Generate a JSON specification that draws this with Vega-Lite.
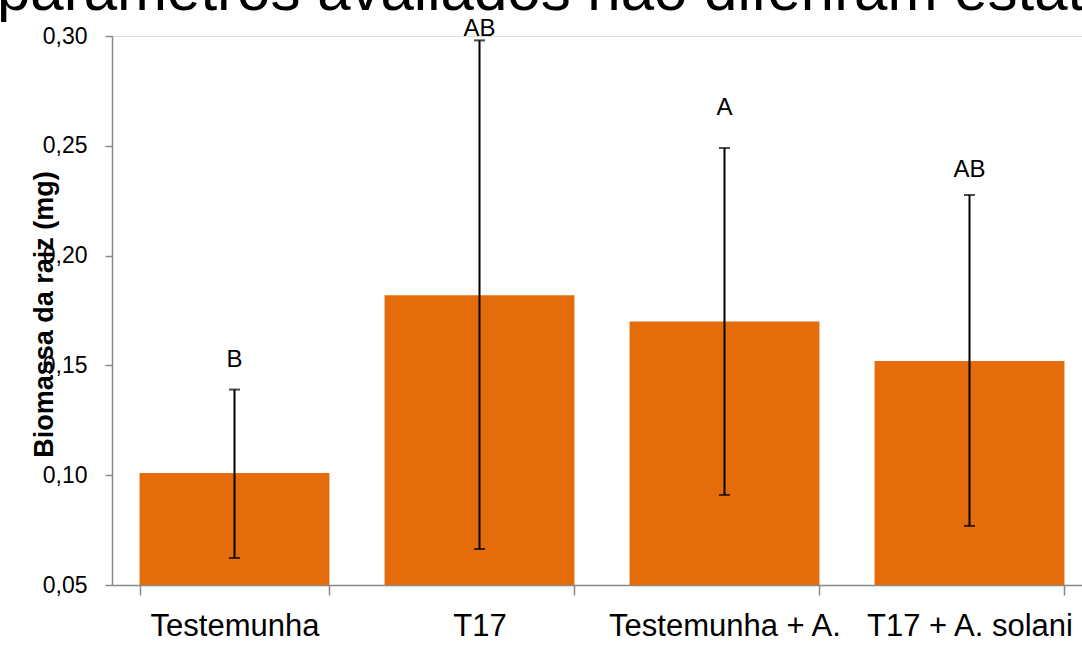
{
  "$schema": "https://vega.github.io/schema/vega-lite/v6.json",
  "width": 970,
  "height": 549,
  "autosize": {"type": "none"},
  "padding": {"left": 112, "top": 36, "right": 0, "bottom": 63},
  "background": "white",
  "title": {
    "text": "parâmetros avaliados não diferiram estatisticamente",
    "anchor": "start",
    "frame": "group",
    "orient": "top",
    "dx": -115,
    "offset": -53,
    "baseline": "alphabetic",
    "font": "Liberation Sans",
    "fontSize": 60,
    "fontWeight": "normal",
    "color": "black"
  },
  "data": {
    "values": [
      {"trat": "Testemunha", "media": 0.101, "lo": 0.0623, "hi": 0.139, "sig": "B", "sig_y": 0.1525},
      {"trat": "T17", "media": 0.182, "lo": 0.0664, "hi": 0.298, "sig": "AB", "sig_y": 0.3032},
      {"trat": "Testemunha + A.", "media": 0.170, "lo": 0.091, "hi": 0.249, "sig": "A", "sig_y": 0.2672},
      {"trat": "T17 + A. solani", "media": 0.152, "lo": 0.0769, "hi": 0.2276, "sig": "AB", "sig_y": 0.239}
    ]
  },
  "encoding": {
    "x": {
      "field": "trat",
      "type": "nominal",
      "sort": null,
      "scale": {"range": [0, 980], "paddingInner": 0.225, "paddingOuter": 0.1125},
      "axis": {
        "title": null,
        "labelAngle": 0,
        "tickBand": "extent",
        "tickSize": 10,
        "labelPadding": 16,
        "labelFont": "Liberation Sans",
        "labelFontSize": 31,
        "labelColor": "black",
        "labelBaseline": "top",
        "domainColor": "#898989",
        "domainWidth": 1.5,
        "tickColor": "#898989",
        "tickWidth": 1.5,
        "labelLimit": 0,
        "labelOverlap": false
      }
    }
  },
  "layer": [
    {
      "mark": {"type": "bar", "color": "#E46C0A"},
      "encoding": {
        "y": {
          "field": "media",
          "type": "quantitative",
          "scale": {"domain": [0.05, 0.30], "nice": false, "zero": false},
          "axis": {
            "values": [0.05, 0.10, 0.15, 0.20, 0.25, 0.30],
            "labelExpr": "replace(format(datum.value, '.2f'), '.', ',')",
            "grid": false,
            "title": "Biomassa da raiz (mg)",
            "titleFont": "Liberation Sans",
            "titleFontSize": 27,
            "titleFontWeight": "bold",
            "titleColor": "black",
            "titleAngle": -90,
            "titleBaseline": "middle",
            "titleAlign": "center",
            "titleX": -68,
            "titleY": 278,
            "labelFont": "Liberation Sans",
            "labelFontSize": 23,
            "labelColor": "black",
            "labelPadding": 18,
            "tickSize": 7,
            "tickColor": "#898989",
            "tickWidth": 1.5,
            "domainColor": "#898989",
            "domainWidth": 1.5
          }
        },
        "y2": {"datum": 0.05}
      }
    },
    {
      "mark": {"type": "rule", "color": "black", "strokeWidth": 2},
      "encoding": {
        "y": {"field": "lo", "type": "quantitative"},
        "y2": {"field": "hi"}
      }
    },
    {
      "mark": {"type": "tick", "color": "black", "thickness": 2, "size": 11},
      "encoding": {"y": {"field": "lo", "type": "quantitative"}}
    },
    {
      "mark": {"type": "tick", "color": "black", "thickness": 2, "size": 11},
      "encoding": {"y": {"field": "hi", "type": "quantitative"}}
    },
    {
      "mark": {"type": "text", "font": "Liberation Sans", "fontSize": 24, "color": "black", "baseline": "middle"},
      "encoding": {
        "y": {"field": "sig_y", "type": "quantitative"},
        "text": {"field": "sig"}
      }
    }
  ]
}
